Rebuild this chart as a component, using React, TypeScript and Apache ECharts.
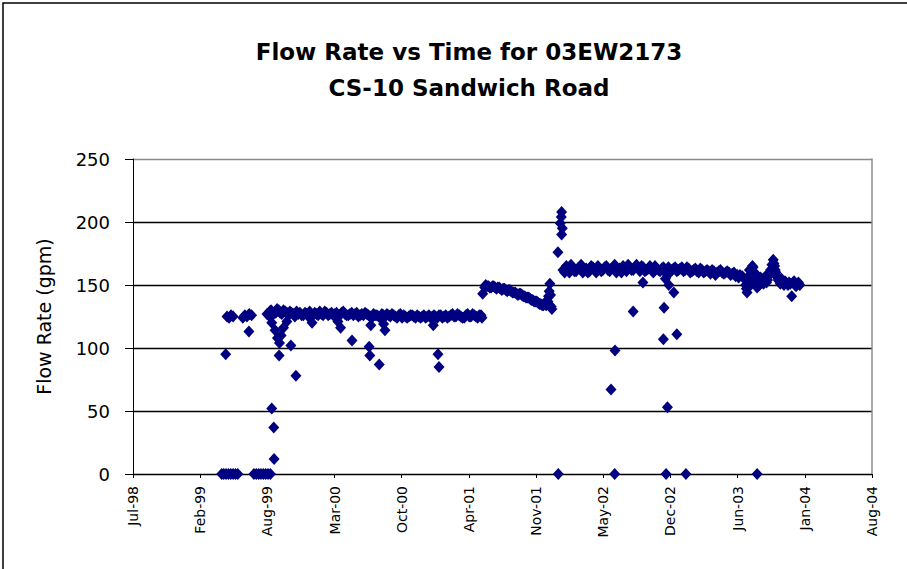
import React, { useEffect, useRef } from "react";
import * as echarts from "echarts";

// ---- Axis tick labels (Excel-style date axis, 200-day major unit) ----
const xTickLabels = ["Jul-98", "Feb-99", "Aug-99", "Mar-00", "Oct-00", "Apr-01", "Nov-01", "May-02", "Dec-02", "Jun-03", "Jan-04", "Aug-04"];
const yTickValues = [0, 50, 100, 150, 200, 250];

// ---- Readings: [date, flow rate (gpm)] ----
const startupZeros: [string, number][] = [
  ["1999-04-14", 0], ["1999-04-20", 0], ["1999-04-27", 0], ["1999-05-04", 0],
  ["1999-05-11", 0], ["1999-05-18", 0], ["1999-05-25", 0], ["1999-06-01", 0],
  ["1999-07-19", 0], ["1999-07-26", 0], ["1999-08-02", 0], ["1999-08-09", 0],
  ["1999-08-16", 0], ["1999-08-23", 0], ["1999-08-30", 0], ["1999-09-06", 0],
];

const startupReadings: [string, number][] = [
  ["1999-04-26", 95], ["1999-04-30", 125], ["1999-05-06", 124], ["1999-05-12", 126], ["1999-05-18", 125],
  ["1999-06-16", 124], ["1999-06-22", 126], ["1999-06-28", 125], ["1999-07-04", 113], ["1999-07-05", 127],
  ["1999-07-12", 126], ["1999-09-10", 52], ["1999-09-16", 37], ["1999-09-17", 12],
];

const phase1Readings: [string, number][] = [
  ["1999-08-27", 127], ["1999-09-04", 129], ["1999-09-12", 126], ["1999-09-22", 128], ["1999-10-01", 130],
  ["1999-10-10", 127], ["1999-10-20", 129], ["1999-10-30", 126], ["1999-11-08", 128], ["1999-11-18", 125],
  ["1999-11-28", 127], ["1999-12-08", 126], ["1999-12-18", 128], ["1999-12-28", 125], ["2000-01-06", 127],
  ["2000-01-16", 128], ["2000-01-26", 126], ["2000-02-05", 127], ["2000-02-15", 129], ["2000-02-25", 126],
  ["2000-03-06", 128], ["2000-03-16", 127], ["2000-03-26", 125], ["2000-04-05", 128], ["2000-04-15", 127],
  ["2000-04-25", 126], ["2000-05-05", 128], ["2000-05-15", 127], ["2000-05-25", 125], ["2000-06-04", 127],
  ["2000-06-14", 128], ["2000-06-24", 126], ["2000-07-04", 124], ["2000-07-14", 126], ["2000-07-24", 125],
  ["2000-08-03", 127], ["2000-08-13", 125], ["2000-08-23", 126], ["2000-09-02", 127], ["2000-09-12", 125],
  ["2000-09-22", 126], ["2000-10-02", 124], ["2000-10-12", 125], ["2000-10-22", 125], ["2000-11-01", 126],
  ["2000-11-11", 124], ["2000-11-21", 125], ["2000-12-01", 125], ["2000-12-11", 124], ["2000-12-21", 126],
  ["2000-12-31", 125], ["2001-01-10", 125], ["2001-01-20", 126], ["2001-01-30", 124], ["2001-02-09", 126],
  ["2001-02-19", 125], ["2001-03-01", 127], ["2001-03-11", 125], ["2001-03-21", 126], ["2001-03-31", 124],
  ["2001-04-10", 126], ["2001-04-20", 125], ["2001-04-30", 127], ["2001-05-10", 125], ["2001-05-20", 126],
  ["2001-05-28", 124],
];

const phase1Between: [string, number][] = [
  ["1999-08-31", 126], ["1999-09-08", 130], ["1999-09-17", 128], ["1999-09-26", 131], ["1999-10-05", 128],
  ["1999-10-15", 130], ["1999-10-25", 128], ["1999-11-03", 129], ["1999-11-13", 127], ["1999-11-23", 129],
  ["1999-12-03", 128], ["1999-12-13", 126], ["1999-12-23", 127], ["2000-01-01", 129], ["2000-01-11", 126],
  ["2000-01-21", 127], ["2000-01-31", 129], ["2000-02-10", 126], ["2000-02-20", 128], ["2000-03-01", 127],
  ["2000-03-11", 126], ["2000-03-21", 128], ["2000-03-31", 126], ["2000-04-10", 129], ["2000-04-20", 126],
  ["2000-04-30", 127], ["2000-05-10", 126], ["2000-05-20", 128], ["2000-05-30", 126], ["2000-06-09", 126],
  ["2000-06-19", 127], ["2000-06-29", 125], ["2000-07-09", 127], ["2000-07-19", 126], ["2000-07-29", 124],
  ["2000-08-08", 126], ["2000-08-18", 127], ["2000-08-28", 125], ["2000-09-07", 126], ["2000-09-17", 124],
  ["2000-09-27", 127], ["2000-10-07", 126], ["2000-10-17", 124], ["2000-10-27", 126], ["2000-11-06", 125],
  ["2000-11-16", 126], ["2000-11-26", 124], ["2000-12-06", 126], ["2000-12-16", 125], ["2000-12-26", 124],
  ["2001-01-05", 126], ["2001-01-15", 124], ["2001-01-25", 126], ["2001-02-04", 125], ["2001-02-14", 124],
  ["2001-02-24", 126], ["2001-03-06", 125], ["2001-03-16", 127], ["2001-03-26", 125], ["2001-04-05", 124],
  ["2001-04-15", 127], ["2001-04-25", 125], ["2001-05-05", 126], ["2001-05-15", 124], ["2001-05-25", 126],
];

const phase1Dips: [string, number][] = [
  ["1999-09-10", 120], ["1999-09-20", 114], ["1999-09-27", 108], ["1999-10-03", 104], ["1999-10-08", 110],
  ["1999-10-15", 116], ["1999-10-25", 121], ["1999-10-02", 94], ["1999-11-06", 102], ["1999-11-21", 78],
  ["2000-01-08", 120], ["2000-03-25", 121], ["2000-04-02", 116], ["2000-05-06", 106], ["2000-06-26", 101],
  ["2000-06-28", 94], ["2000-07-01", 118], ["2000-07-26", 87], ["2000-08-08", 119], ["2000-08-12", 114],
  ["2001-01-03", 118], ["2001-01-17", 95], ["2001-01-20", 85],
];

const phase2Readings: [string, number][] = [
  ["2001-05-30", 143], ["2001-06-05", 148], ["2001-06-12", 149], ["2001-06-20", 148], ["2001-06-28", 149],
  ["2001-07-06", 148], ["2001-07-14", 148], ["2001-07-22", 147], ["2001-07-30", 147], ["2001-08-07", 146],
  ["2001-08-15", 146], ["2001-08-23", 145], ["2001-08-31", 144], ["2001-09-08", 143], ["2001-09-16", 143],
  ["2001-09-24", 142], ["2001-10-02", 141], ["2001-10-10", 140], ["2001-10-18", 139], ["2001-10-26", 138],
  ["2001-11-03", 137], ["2001-11-11", 136], ["2001-11-19", 135], ["2001-11-27", 134], ["2001-12-05", 134],
  ["2001-12-10", 137], ["2001-12-14", 145], ["2001-12-16", 151], ["2001-12-18", 142], ["2001-12-20", 133],
  ["2001-12-22", 131],
];

const phase2Between: [string, number][] = [
  ["2001-06-08", 150], ["2001-06-16", 149], ["2001-06-24", 148], ["2001-07-02", 149], ["2001-07-10", 147],
  ["2001-07-18", 148], ["2001-07-26", 146], ["2001-08-03", 147], ["2001-08-11", 145], ["2001-08-19", 146],
  ["2001-08-27", 144], ["2001-09-04", 144], ["2001-09-12", 142], ["2001-09-20", 143], ["2001-09-28", 141],
  ["2001-10-06", 140], ["2001-10-14", 140], ["2001-10-22", 138], ["2001-10-30", 137], ["2001-11-07", 137],
  ["2001-11-15", 135], ["2001-11-23", 134], ["2001-12-01", 136], ["2001-12-12", 141],
];

const surgeReadings: [string, number][] = [
  ["2002-01-10", 0], ["2002-01-09", 176], ["2002-01-16", 199], ["2002-01-19", 204], ["2002-01-20", 208],
  ["2002-01-22", 195], ["2002-01-20", 190],
];

const phase3Readings: [string, number][] = [
  ["2002-01-24", 162], ["2002-02-03", 165], ["2002-02-12", 160], ["2002-02-22", 163], ["2002-03-04", 161],
  ["2002-03-14", 164], ["2002-03-24", 160], ["2002-04-03", 163], ["2002-04-13", 161], ["2002-04-23", 164],
  ["2002-05-03", 160], ["2002-05-13", 163], ["2002-05-23", 162], ["2002-06-02", 165], ["2002-06-12", 161],
  ["2002-06-22", 164], ["2002-07-02", 160], ["2002-07-12", 163], ["2002-07-22", 165], ["2002-08-01", 161],
  ["2002-08-11", 164], ["2002-08-21", 162], ["2002-08-31", 166], ["2002-09-10", 161], ["2002-09-20", 164],
  ["2002-09-30", 162], ["2002-10-10", 165], ["2002-10-20", 160], ["2002-10-30", 163], ["2002-11-09", 161],
  ["2002-11-19", 164], ["2002-11-29", 162], ["2002-12-09", 160], ["2002-12-19", 163], ["2002-12-29", 161],
  ["2003-01-08", 163], ["2003-01-18", 161], ["2003-01-28", 164], ["2003-02-07", 160], ["2003-02-17", 162],
  ["2003-02-27", 161], ["2003-03-09", 163], ["2003-03-19", 160], ["2003-03-29", 162], ["2003-04-08", 159],
  ["2003-04-18", 161], ["2003-04-28", 160], ["2003-05-08", 162], ["2003-05-18", 159], ["2003-05-28", 161],
  ["2003-06-07", 158], ["2003-06-17", 160], ["2003-06-27", 158],
];

const phase3Between: [string, number][] = [
  ["2002-01-29", 160], ["2002-02-08", 163], ["2002-02-17", 166], ["2002-02-27", 161], ["2002-03-09", 163],
  ["2002-03-19", 166], ["2002-03-29", 162], ["2002-04-08", 160], ["2002-04-18", 165], ["2002-04-28", 162],
  ["2002-05-08", 165], ["2002-05-18", 161], ["2002-05-28", 164], ["2002-06-07", 162], ["2002-06-17", 163],
  ["2002-06-27", 166], ["2002-07-07", 162], ["2002-07-17", 160], ["2002-07-27", 163], ["2002-08-06", 166],
  ["2002-08-16", 162], ["2002-08-26", 164], ["2002-09-05", 163], ["2002-09-15", 165], ["2002-09-25", 161],
  ["2002-10-05", 163], ["2002-10-15", 162], ["2002-10-25", 165], ["2002-11-04", 162], ["2002-11-14", 163],
  ["2002-11-24", 160], ["2002-12-04", 164], ["2002-12-14", 162], ["2002-12-24", 164], ["2003-01-03", 162],
  ["2003-01-13", 164], ["2003-01-23", 162], ["2003-02-02", 163], ["2003-02-12", 161], ["2003-02-22", 163],
  ["2003-03-04", 160], ["2003-03-14", 162], ["2003-03-24", 161], ["2003-04-03", 161], ["2003-04-13", 162],
  ["2003-04-23", 158], ["2003-05-03", 161], ["2003-05-13", 160], ["2003-05-23", 160], ["2003-06-02", 160],
  ["2003-06-12", 159], ["2003-06-22", 157], ["2003-07-01", 156],
];

const phase3Dips: [string, number][] = [
  ["2002-06-16", 67], ["2002-06-27", 0], ["2002-06-28", 98], ["2002-08-21", 129], ["2002-09-19", 152],
  ["2002-11-19", 107], ["2002-11-21", 132], ["2002-11-25", 155], ["2002-11-27", 0], ["2002-12-01", 53],
  ["2002-12-05", 150], ["2002-12-20", 144], ["2002-12-29", 111], ["2003-01-25", 0], ["2003-08-25", 0],
];

const lateReadings: [string, number][] = [
  ["2003-07-05", 158], ["2003-07-12", 157], ["2003-07-18", 155], ["2003-07-22", 150], ["2003-07-26", 144],
  ["2003-07-30", 152], ["2003-08-04", 158], ["2003-08-09", 161], ["2003-08-13", 164], ["2003-08-17", 160],
  ["2003-08-21", 155], ["2003-08-25", 148], ["2003-08-29", 152], ["2003-09-04", 156], ["2003-09-10", 153],
  ["2003-09-16", 155], ["2003-09-22", 152], ["2003-09-28", 158], ["2003-10-04", 162], ["2003-10-08", 166],
  ["2003-10-12", 170], ["2003-10-16", 165], ["2003-10-20", 160], ["2003-10-25", 156], ["2003-10-30", 153],
  ["2003-11-05", 155], ["2003-11-10", 152], ["2003-11-16", 153], ["2003-11-22", 151], ["2003-11-28", 152],
  ["2003-12-06", 141], ["2003-12-10", 152], ["2003-12-16", 150], ["2003-12-22", 151], ["2003-12-30", 150],
];

const lateBetween: [string, number][] = [
  ["2003-07-24", 147], ["2003-07-28", 156], ["2003-08-02", 162], ["2003-08-06", 150], ["2003-08-11", 165],
  ["2003-08-15", 155], ["2003-08-19", 151], ["2003-08-23", 158], ["2003-09-01", 150], ["2003-09-07", 154],
  ["2003-09-13", 151], ["2003-09-19", 157], ["2003-09-25", 154], ["2003-10-01", 158], ["2003-10-10", 163],
  ["2003-10-14", 167], ["2003-10-18", 162], ["2003-10-22", 157], ["2003-10-27", 154], ["2003-11-02", 151],
  ["2003-11-08", 154], ["2003-11-13", 150], ["2003-11-19", 152], ["2003-11-25", 150], ["2003-12-02", 151],
  ["2003-12-13", 153], ["2003-12-19", 149], ["2003-12-26", 152],
];

// Excel serial day number (axis is laid out in Excel serial days)
const toSerial = (d: string): number => {
  const [y, m, dd] = d.split("-").map(Number);
  return Math.round((Date.UTC(y, m - 1, dd) - Date.UTC(1899, 11, 30)) / 86400000);
};

const X_MIN = 36000;
const X_STEP = 200;
const X_MAX = X_MIN + X_STEP * (xTickLabels.length - 1);

export default function App() {
  const ref = useRef<HTMLDivElement>(null);

  useEffect(() => {
    if (!ref.current) return;
    const chart = echarts.init(ref.current, undefined, { renderer: "svg" });
    const all = [
      ...startupZeros, ...startupReadings, ...phase1Readings, ...phase1Between, ...phase1Dips,
      ...phase2Readings, ...phase2Between, ...surgeReadings, ...phase3Readings, ...phase3Between,
      ...phase3Dips, ...lateReadings, ...lateBetween,
    ].map(([d, v]) => [toSerial(d), v]);

    const font = "DejaVu Sans";
    chart.setOption({
      animation: false,
      backgroundColor: "#ffffff",
      textStyle: { fontFamily: font },
      title: {
        text: "Flow Rate vs Time for 03EW2173\nCS-10 Sandwich Road",
        left: 464,
        top: 29,
        textAlign: "center",
        textStyle: { fontFamily: font, fontSize: 23, fontWeight: "bold", color: "#000", lineHeight: 36 },
      },
      graphic: [
        {
          type: "rect",
          shape: { x: 3, y: 3, width: 1200, height: 1200 },
          style: { fill: "none", stroke: "#000", lineWidth: 1.5 },
          silent: true,
        },
      ],
      grid: { left: 133, right: 35, top: 159, bottom: 95, containLabel: false },
      xAxis: {
        type: "value",
        min: X_MIN,
        max: X_MAX,
        interval: X_STEP,
        axisLine: { show: true, lineStyle: { color: "#000", width: 1 } },
        axisTick: { show: true, inside: false, length: 4, lineStyle: { color: "#000" } },
        axisLabel: {
          rotate: 90,
          margin: 12,
          fontFamily: font,
          fontSize: 14,
          color: "#000",
          showMinLabel: true,
          showMaxLabel: true,
          formatter: (v: number) => xTickLabels[Math.round((v - X_MIN) / X_STEP)] ?? "",
        },
        splitLine: { show: false },
      },
      yAxis: [
        {
          type: "value",
          min: yTickValues[0],
          max: yTickValues[yTickValues.length - 1],
          interval: yTickValues[1] - yTickValues[0],
          name: "Flow Rate (gpm)",
          nameLocation: "middle",
          nameGap: 80,
          nameTextStyle: { fontFamily: font, fontSize: 19, color: "#000" },
          axisLine: { show: true, lineStyle: { color: "#000", width: 1 } },
          axisTick: { show: true, inside: false, length: 8, lineStyle: { color: "#000" } },
          axisLabel: { margin: 23, fontFamily: font, fontSize: 18, color: "#000" },
          splitLine: {
            show: true,
            lineStyle: { color: ["#000", "#000", "#000", "#000", "#000", "#8c8c8c"], width: 1.3 },
          },
        },
        {
          type: "value",
          position: "right",
          min: yTickValues[0],
          max: yTickValues[yTickValues.length - 1],
          axisLine: { show: true, lineStyle: { color: "#8c8c8c", width: 1.5 } },
          axisTick: { show: false },
          axisLabel: { show: false },
          splitLine: { show: false },
        },
      ],
      series: [
        {
          type: "scatter",
          data: all,
          symbol: "diamond",
          symbolSize: [11, 12],
          itemStyle: { color: "#000080", opacity: 1 },
          silent: true,
        },
      ],
    });
    return () => chart.dispose();
  }, []);

  return (
    <div
      ref={ref}
      style={{ position: "fixed", left: 0, top: 0, width: 907, height: 569, background: "#fff" }}
    />
  );
}
